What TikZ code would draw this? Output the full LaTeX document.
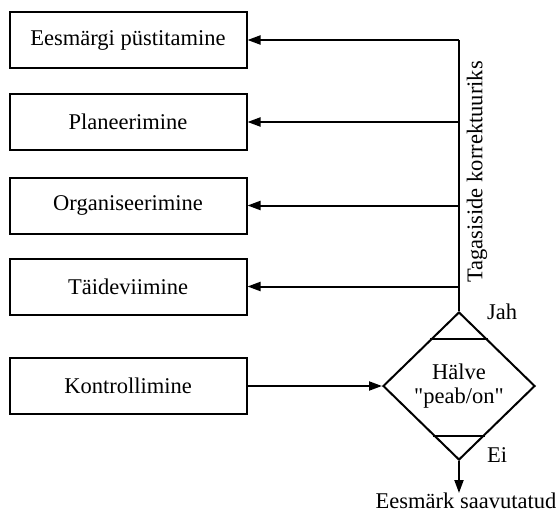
\documentclass[tikz,border=0pt]{standalone}
\usepackage{fontspec}
\setmainfont{Liberation Serif}[Ligatures=TeXOff]
\usetikzlibrary{arrows.meta,shapes.geometric,calc}
\begin{document}
\begin{tikzpicture}[x=1pt,y=-1pt,
  every node/.style={font=\fontsize{22.5}{24}\selectfont},
  stepbox/.style={draw,line width=2pt,minimum width=237pt,minimum height=56pt,inner sep=0pt},
  conn/.style={line width=2pt},
  arr/.style={conn,-{Triangle[length=13pt,width=9pt]}},
  lbl/.style={inner sep=0pt}]
\useasboundingbox (0,0) rectangle (557,517);
\node[stepbox] (b1) at (128,40) {Eesmärgi püstitamine};
\node[stepbox] (b2) at (128,122) {Planeerimine};
\node[stepbox] (b3) at (128,205.5) {Organiseerimine};
\node[stepbox] (b4) at (128,286.5) {Täideviimine};
\node[stepbox] (b5) at (128,386) {Kontrollimine};
\node[draw,line width=2pt,diamond,minimum width=152pt,minimum height=148pt,aspect=1.03,inner sep=0pt,align=center] (d) at (459,386) {Hälve\\"peab/on"};
\draw[conn] ($(d.north)!0.378!(d.west)$) -- ($(d.north)!0.378!(d.east)$);
\draw[conn] ($(d.south)!0.338!(d.west)$) -- ($(d.south)!0.338!(d.east)$);
\coordinate (top) at (d.north |- b1.east);
\draw[conn] (d.north) -- (top);
\draw[arr] (top) -- (b1.east);
\draw[arr] (d.north |- b2.east) -- (b2.east);
\draw[arr] (d.north |- b3.east) -- (b3.east);
\draw[arr] (d.north |- b4.east) -- (b4.east);
\draw[arr] (b5.east) -- (d.west);
\coordinate (end) at (459,493);
\draw[arr] (d.south) -- (end);
\node[lbl,anchor=north] (goal) at (466,493) {Eesmärk saavutatud};
\node[lbl] (jah) at (502,312) {Jah};
\node[lbl] (ei) at (497,455) {Ei};
\node[lbl,rotate=90] (fb) at (477,172) {Tagasiside korrektuuriks};
\end{tikzpicture}
\end{document}
